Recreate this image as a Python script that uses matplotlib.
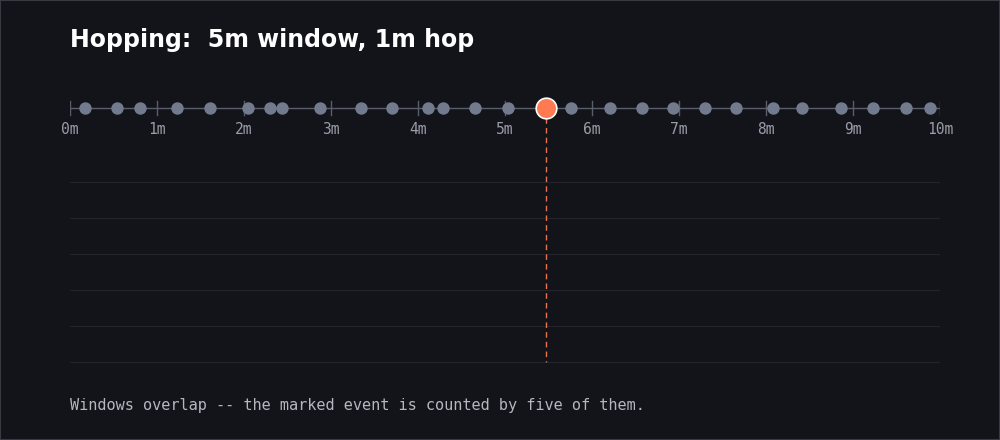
import matplotlib
matplotlib.use("Agg")
import matplotlib.pyplot as plt
from matplotlib.patches import Rectangle

events = [0.17, 0.54, 0.80, 1.23, 1.61, 2.05, 2.30, 2.44, 2.87, 3.34, 3.70, 4.11, 4.29,
          4.66, 5.03, 5.76, 6.21, 6.57, 6.93, 7.30, 7.66, 8.08, 8.41, 8.86, 9.23, 9.61, 9.89]
marked = 5.47
ticks = list(range(11))
tick_labels = [f"{t}m" for t in ticks]
n_lanes = 6

BG = "#13131a"
fig = plt.figure(figsize=(10, 4.4), dpi=100, facecolor=BG)
fig.patches.append(Rectangle((0, 0), 1, 1, transform=fig.transFigure, fill=False,
                             edgecolor="#3a3a44", linewidth=1.5))
ax = fig.add_axes([0.07, 0.159, 0.87, 0.636])
ax.set_facecolor(BG)
ax.set_xlim(0, 10)
# y units in pixels from the top of the figure
ax.set_ylim(370, 90)
ax.axis("off")

tl_y = 108
lane0 = 182
lane_gap = 36
for k in range(n_lanes):
    ax.axhline(lane0 + k * lane_gap, color="#24242d", linewidth=0.8, zorder=1)

ax.plot([0, 10], [tl_y, tl_y], color="#5a5d6a", linewidth=1, zorder=2)
for t, lab in zip(ticks, tick_labels):
    ax.plot([t, t], [tl_y - 7, tl_y + 7], color="#5a5d6a", linewidth=1, zorder=2)
    ax.text(t, tl_y + 21, lab, ha="center", va="center", color="#9a9ca8",
            fontsize=10.5, family="DejaVu Sans Mono")

ax.scatter(events, [tl_y] * len(events), s=80, color="#727a8e", zorder=3, linewidths=0)
ax.plot([marked, marked], [tl_y, lane0 + (n_lanes - 1) * lane_gap], color="#e8734f",
        linewidth=1, linestyle=(0, (4, 3)), zorder=2)
ax.scatter([marked], [tl_y], s=220, color="#ff7a50", edgecolors="white",
           linewidths=1.2, zorder=4)

fig.text(0.07, 1 - 40 / 440, "Hopping:  5m window, 1m hop", color="white",
         fontsize=17, fontweight="bold", va="center", ha="left")
fig.text(0.07, 1 - 405 / 440, "Windows overlap -- the marked event is counted by five of them.",
         color="#b4b6c0", fontsize=11, family="DejaVu Sans Mono", va="center", ha="left")

fig.savefig("out.png", dpi=100, facecolor=BG)
